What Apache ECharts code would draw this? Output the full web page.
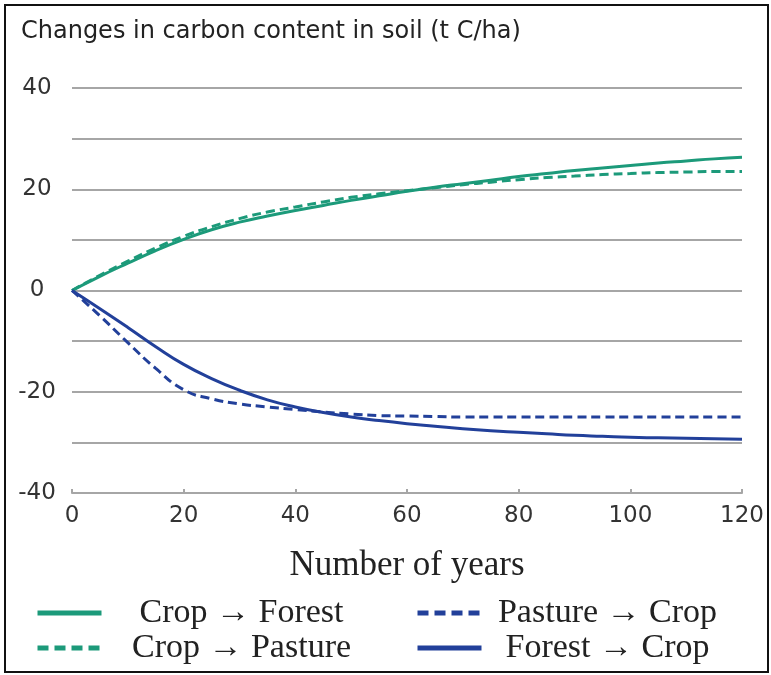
<!DOCTYPE html>
<html>
<head>
<meta charset="utf-8">
<script src="https://cdn.jsdelivr.net/npm/echarts@6/dist/echarts.min.js"></script>
<style>
  html, body { margin: 0; padding: 0; background: #fff; }
  #main { width: 771px; height: 675px; }
</style>
</head>
<body>
<div id="main"></div>
<script>
// years on the x axis
const years = [0, 5, 10, 15, 20, 25, 30, 35, 40, 45, 50, 55, 60, 65, 70, 75, 80, 85, 90, 95, 100, 105, 110, 115, 120];
// soil carbon change (t C/ha)
const cropForest = [0, 2.8, 5.4, 7.9, 10.1, 12.0, 13.5, 14.7, 15.8, 16.8, 17.8, 18.7, 19.6, 20.4, 21.1, 21.8, 22.5, 23.1, 23.7, 24.2, 24.7, 25.2, 25.6, 26.0, 26.3];
const cropPasture = [0, 3.0, 5.8, 8.4, 10.7, 12.6, 14.2, 15.5, 16.5, 17.5, 18.4, 19.1, 19.7, 20.3, 20.9, 21.4, 21.9, 22.3, 22.6, 22.9, 23.1, 23.3, 23.4, 23.5, 23.5];
const pastureCrop = [0, -5.0, -10.3, -15.4, -19.6, -21.4, -22.4, -23.0, -23.5, -24.0, -24.4, -24.7, -24.8, -24.9, -25.0, -25.0, -25.0, -25.0, -25.0, -25.0, -25.0, -25.0, -25.0, -25.0, -25.0];
const forestCrop = [0, -3.6, -7.3, -11.1, -14.6, -17.4, -19.7, -21.6, -23.0, -24.1, -25.0, -25.7, -26.3, -26.8, -27.3, -27.7, -28.0, -28.3, -28.6, -28.8, -29.0, -29.1, -29.2, -29.3, -29.4];

const green = "#1c9a7a";
const blue = "#22409a";
const serif = "'Liberation Serif', 'DejaVu Serif', serif";
const sans = "'DejaVu Sans', sans-serif";

const pairs = (vals) => years.map((y, i) => [y, vals[i]]);

// one legend per entry so each can sit in its own cell
const legendItem = (name, left, top, textWidth, dash) => ({
  data: [name],
  left: left,
  top: top,
  padding: 0,
  itemWidth: 64,
  itemHeight: 14,
  selectedMode: false,
  lineStyle: { width: 5, type: dash, cap: "butt" },
  // hide the little circle the line icon carries
  itemStyle: { opacity: 0, color: "transparent", borderWidth: 0 },
  formatter: "{t|{name}}",
  textStyle: {
    rich: {
      t: { width: textWidth, align: "center", fontFamily: serif, fontSize: 34, color: "#222" },
    },
  },
});

const lineSeries = (name, vals, color, dash) => ({
  name: name,
  type: "line",
  smooth: true,
  symbol: "none",
  showSymbol: false,
  data: pairs(vals),
  lineStyle: { color: color, width: 3, type: dash },
  itemStyle: { color: color },
});

const chart = echarts.init(document.getElementById("main"));
chart.setOption({
  animation: false,
  title: {
    text: "Changes in carbon content in soil (t C/ha)",
    left: 21,
    top: 20,
    padding: 0,
    textStyle: { fontFamily: sans, fontSize: 24, fontWeight: "normal", color: "#222" },
  },
  graphic: [
    {
      type: "rect",
      shape: { x: 5, y: 5, width: 763, height: 667 },
      style: { fill: "none", stroke: "#111", lineWidth: 2 },
      silent: true,
    },
  ],
  grid: { left: 72, right: 29, top: 88, bottom: 182 },
  xAxis: {
    type: "value",
    min: 0,
    max: 120,
    interval: 20,
    name: "Number of years",
    nameLocation: "middle",
    nameGap: 55,
    nameTextStyle: { fontFamily: serif, fontSize: 35, color: "#222" },
    axisLine: { show: true, onZero: false, lineStyle: { color: "#a6a6a6", width: 2 } },
    axisTick: { show: true, inside: true, length: 4, lineStyle: { color: "#a6a6a6", width: 2 } },
    axisLabel: { fontFamily: sans, fontSize: 23, color: "#333", margin: 12 },
    splitLine: { show: false },
  },
  yAxis: {
    type: "value",
    min: -40,
    max: 40,
    interval: 10,
    axisLine: { show: false },
    axisTick: { show: false },
    axisLabel: {
      fontFamily: sans,
      fontSize: 23,
      color: "#333",
      align: "center",
      margin: 35,
      formatter: (v) => (v % 20 === 0 ? String(v) : ""),
    },
    splitLine: { lineStyle: { color: "#a6a6a6", width: 2 } },
  },
  legend: [
    legendItem("Crop → Forest", 35, 596, 270, "solid"),
    legendItem("Crop → Pasture", 35, 631, 270, [11, 6]),
    legendItem("Pasture → Crop", 415, 596, 242, [11, 6]),
    legendItem("Forest → Crop", 415, 631, 242, "solid"),
  ],
  series: [
    lineSeries("Crop → Pasture", cropPasture, green, [9, 5]),
    lineSeries("Crop → Forest", cropForest, green, "solid"),
    lineSeries("Pasture → Crop", pastureCrop, blue, [9, 5]),
    lineSeries("Forest → Crop", forestCrop, blue, "solid"),
  ],
});
</script>
</body>
</html>
